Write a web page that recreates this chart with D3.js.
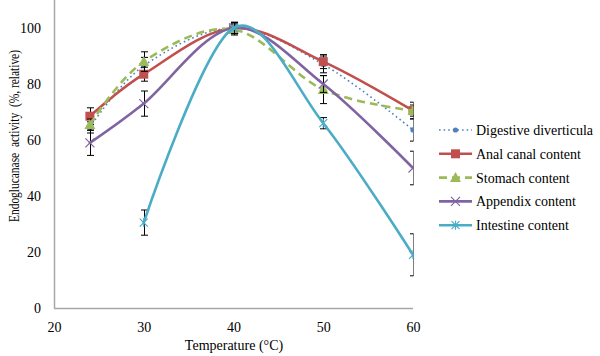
<!DOCTYPE html>
<html><head><meta charset="utf-8">
<script src="https://cdn.jsdelivr.net/npm/d3@7"></script>
<style>body{margin:0;background:#fff}svg{display:block}text{font-family:"Liberation Serif","Times New Roman",serif;fill:#000}</style>
</head><body><svg id="c" width="600" height="356"></svg>
<script>
const temps = [24, 30, 40, 50, 60];
const seriesNames = ["Digestive diverticula", "Anal canal content", "Stomach content", "Appendix content", "Intestine content"];
const digestive = [64.5, 86.5, 100, 87, 63.6];
const anal = [68.5, 83.5, 100, 88, 70.5];
const stomach = [65.5, 88, 99.5, 78, 70.5];
const appendix = [59, 73, 100, 80, 50];
const intestine = [null, 30.5, 100, 66, 19];
const errDigestive = [2, 3, 2, 3, 4];
const errAnal = [3, 2.5, 2, 2.5, 3];
const errStomach = [2, 3.5, 2, 5, 2];
const errAppendix = [4.5, 4.5, 2, 3, 6];
const errIntestine = [null, 4.5, 2, 2, 7.5];
const xTicks = [20, 30, 40, 50, 60];
const yTicks = [0, 20, 40, 60, 80, 100];
const xLabel = "Temperature (°C)";
const yLabel = "Endoglucanase  activity  (%, relative)";

const series = [
  {name: seriesNames[0], vals: digestive, err: errDigestive, color: "#4F81BD", width: 1.6, dash: "1.6,3", marker: "circle"},
  {name: seriesNames[1], vals: anal, err: errAnal, color: "#C0504D", width: 2.6, dash: null, marker: "square"},
  {name: seriesNames[2], vals: stomach, err: errStomach, color: "#9BBB59", width: 2.6, dash: "8,5", marker: "triangle"},
  {name: seriesNames[3], vals: appendix, err: errAppendix, color: "#8064A2", width: 2.6, dash: null, marker: "x"},
  {name: seriesNames[4], vals: intestine, err: errIntestine, color: "#4BACC6", width: 2.6, dash: null, marker: "star"}
];

const svg = d3.select("#c");
const x = d3.scaleLinear().domain([20, 60]).range([54, 413]);
const y = d3.scaleLinear().domain([0, 110]).range([308, 0]);

// axes
const gx = svg.append("g").attr("transform", "translate(0,308)")
  .call(d3.axisBottom(x).tickValues(xTicks).tickSize(0).tickPadding(14));
const gy = svg.append("g").attr("transform", "translate(54,0)")
  .call(d3.axisLeft(y).tickValues(yTicks).tickSize(0).tickPadding(13));
[gx, gy].forEach(g => {
  g.select(".domain").attr("stroke", "#A6A6A6").attr("stroke-width", 1.5);
  g.selectAll("text").style("font-family", '"Liberation Serif",serif').style("font-size", "14px").attr("fill", "#000");
});
gy.select(".domain").attr("d", "M0.5,0V308.5");
gx.select(".domain").attr("d", "M54,0.5H413");

svg.append("text").attr("x", 234).attr("y", 350).attr("text-anchor", "middle")
  .style("font-size", "14px").text(xLabel);
svg.append("text").attr("transform", "translate(19,136) rotate(-90)").attr("text-anchor", "middle")
  .style("font-size", "14px").style("white-space", "pre").attr("xml:space", "preserve")
  .attr("textLength", 172).attr("lengthAdjust", "spacingAndGlyphs").text(yLabel);

const clip = svg.append("clipPath").attr("id", "pa").append("rect")
  .attr("x", 54).attr("y", 0).attr("width", 359.5).attr("height", 308);

const line = d3.line().defined(d => d.v != null)
  .x(d => x(d.t)).y(d => y(d.v)).curve(d3.curveCatmullRom.alpha(0));

function drawMarker(g, type, cx, cy, color) {
  if (type === "circle") {
    g.append("circle").attr("cx", cx).attr("cy", cy).attr("r", 2.6).attr("fill", color);
  } else if (type === "square") {
    g.append("rect").attr("x", cx - 4.5).attr("y", cy - 4.5).attr("width", 9).attr("height", 9).attr("fill", color);
  } else if (type === "triangle") {
    g.append("path").attr("d", `M${cx},${cy-5.5}L${cx+5.5},${cy+4.5}L${cx-5.5},${cy+4.5}Z`).attr("fill", color);
  } else if (type === "x") {
    g.append("path").attr("d", `M${cx-4.5},${cy-4.5}L${cx+4.5},${cy+4.5}M${cx-4.5},${cy+4.5}L${cx+4.5},${cy-4.5}`)
      .attr("stroke", color).attr("stroke-width", 1.2);
  } else if (type === "star") {
    g.append("path").attr("d", `M${cx-4},${cy-4}L${cx+4},${cy+4}M${cx-4},${cy+4}L${cx+4},${cy-4}M${cx},${cy-4.5}L${cx},${cy+4.5}`)
      .attr("stroke", color).attr("stroke-width", 1.2);
  }
}

const plot = svg.append("g").attr("clip-path", "url(#pa)");
series.forEach(s => {
  const pts = temps.map((t, i) => ({t, v: s.vals[i], e: s.err[i]}));
  const valid = pts.filter(d => d.v != null);
  const eg = plot.append("g").attr("stroke", "#000").attr("stroke-width", 1);
  valid.forEach(d => {
    const cx = Math.round(x(d.t)) + 0.5;
    const y1 = y(d.v + d.e), y2 = y(d.v - d.e);
    eg.append("line").attr("x1", cx).attr("x2", cx).attr("y1", y1).attr("y2", y2);
    eg.append("line").attr("x1", cx - 3.5).attr("x2", cx + 3.5).attr("y1", y1).attr("y2", y1);
    eg.append("line").attr("x1", cx - 3.5).attr("x2", cx + 3.5).attr("y1", y2).attr("y2", y2);
  });
  plot.append("path").datum(valid).attr("d", line).attr("fill", "none")
    .attr("stroke", s.color).attr("stroke-width", s.width)
    .attr("stroke-dasharray", s.dash).attr("stroke-linecap", s.dash ? "butt" : "round");
  const mg = plot.append("g");
  valid.forEach(d => drawMarker(mg, s.marker, x(d.t), y(d.v), s.color));
});

// legend
const leg = svg.append("g");
series.forEach((s, i) => {
  const ly = 130 + i * 23.8;
  leg.append("line").attr("x1", 439).attr("x2", 472).attr("y1", ly).attr("y2", ly)
    .attr("stroke", s.color).attr("stroke-width", s.width).attr("stroke-dasharray", s.dash);
  drawMarker(leg, s.marker, 455.5, ly, s.color);
  leg.append("text").attr("x", 476).attr("y", ly + 5).style("font-size", "14px").text(s.name);
});
</script></body></html>
